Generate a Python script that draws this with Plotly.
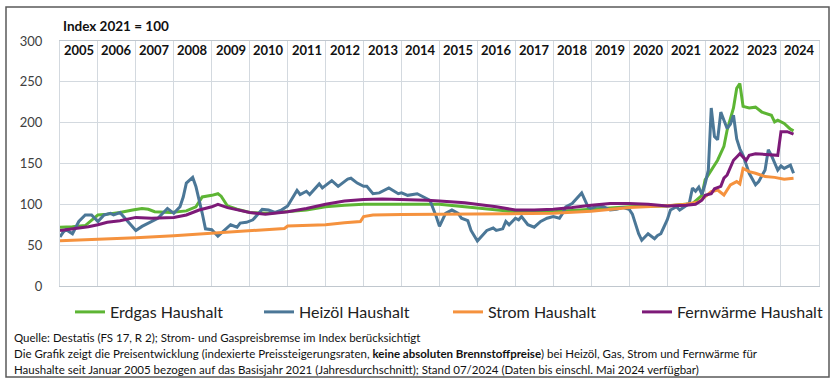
import plotly.graph_objects as go

# ---------------- data ----------------
years = [str(y) for y in range(2005, 2025)]

erdgas_dates = ["2005-01", "2005-05", "2005-09", "2005-11", "2006-01", "2006-04", "2006-08", "2006-12",
                "2007-03", "2007-05", "2007-07", "2007-12", "2008-05", "2008-08", "2008-10", "2009-01",
                "2009-03", "2009-04", "2009-06", "2009-09", "2010-01", "2010-07", "2011-01", "2011-07",
                "2012-01", "2012-07", "2013-01", "2014-01", "2015-01", "2015-09", "2016-07", "2017-01",
                "2018-01", "2019-01", "2019-07", "2020-01", "2020-07", "2021-01", "2021-09", "2021-12",
                "2022-01", "2022-03", "2022-05", "2022-07", "2022-08", "2022-10", "2022-11", "2022-12",
                "2023-01", "2023-03", "2023-05", "2023-07", "2023-10", "2023-11", "2023-12", "2024-02",
                "2024-04", "2024-05"]
erdgas_values = [72, 72.5, 74, 80, 87, 88, 90, 93,
                 95, 94, 91, 90, 92, 97, 109, 111,
                 113, 110, 98, 94, 90, 89, 91, 93,
                 97, 99, 100, 100, 100, 97, 93, 91,
                 91, 94, 96, 97, 98, 98, 101, 111,
                 130, 142, 154, 171, 191, 218, 242, 248,
                 220, 218, 219, 213, 209, 201, 203, 199,
                 192, 190]

heizoel_dates = ["2005-01", "2005-02", "2005-03", "2005-05", "2005-07", "2005-09", "2005-11", "2006-01",
                 "2006-03", "2006-05", "2006-06", "2006-08", "2006-10", "2006-11", "2007-01", "2007-03",
                 "2007-06", "2007-08", "2007-11", "2008-01", "2008-03", "2008-04", "2008-05", "2008-07",
                 "2008-08", "2008-09", "2008-10", "2008-11", "2009-01", "2009-03", "2009-05", "2009-07",
                 "2009-09", "2009-10", "2009-12", "2010-02", "2010-05", "2010-07", "2010-09", "2010-11",
                 "2011-01", "2011-04", "2011-05", "2011-07", "2011-08", "2011-11", "2011-12", "2012-03",
                 "2012-05", "2012-07", "2012-08", "2012-09", "2012-11", "2013-01", "2013-02", "2013-04",
                 "2013-06", "2013-09", "2013-12", "2014-01", "2014-03", "2014-06", "2014-08", "2014-10",
                 "2014-12", "2015-01", "2015-03", "2015-04", "2015-05", "2015-07", "2015-08", "2015-10",
                 "2015-11", "2016-01", "2016-02", "2016-04", "2016-06", "2016-07", "2016-09", "2016-10",
                 "2016-11", "2017-01", "2017-02", "2017-03", "2017-05", "2017-07", "2017-09", "2017-11",
                 "2018-01", "2018-03", "2018-04", "2018-05", "2018-07", "2018-09", "2018-10", "2018-12",
                 "2019-01", "2019-03", "2019-05", "2019-07", "2019-09", "2019-11", "2020-01", "2020-02",
                 "2020-03", "2020-04", "2020-05", "2020-06", "2020-07", "2020-09", "2020-10", "2020-11",
                 "2021-01", "2021-02", "2021-04", "2021-05", "2021-08", "2021-09", "2021-10", "2021-11",
                 "2021-12", "2022-01", "2022-02", "2022-03", "2022-04", "2022-05", "2022-06", "2022-07",
                 "2022-08", "2022-09", "2022-10", "2022-11", "2022-12", "2023-01", "2023-03", "2023-05",
                 "2023-06", "2023-08", "2023-09", "2023-10", "2023-12", "2024-01", "2024-02", "2024-04",
                 "2024-05"]
heizoel_values = [60, 66, 69, 64, 79, 87, 87, 79,
                  87, 89, 87, 90, 81, 77, 68, 73,
                  79, 83, 95, 89, 97, 109, 126, 133,
                  122, 107, 89, 70, 69, 61, 68, 75,
                  72, 77, 78, 81, 94, 93, 90, 93,
                  98, 117, 112, 116, 112, 125, 120, 129,
                  122, 128, 131, 132, 126, 122, 122, 113,
                  114, 120, 113, 114, 111, 113, 109, 105,
                  85, 73, 89, 91, 93, 89, 83, 80,
                  68, 55, 59, 68, 71, 68, 70, 79,
                  75, 83, 81, 85, 75, 72, 79, 83,
                  85, 83, 89, 97, 101, 109, 114, 97,
                  95, 98, 97, 93, 94, 96, 94, 88,
                  75, 64, 56, 60, 64, 58, 62, 64,
                  81, 93, 97, 93, 101, 120, 116, 121,
                  112, 125, 142, 218, 183, 179, 213, 203,
                  193, 198, 209, 180, 168, 160, 138, 124,
                  128, 142, 167, 160, 142, 147, 144, 148,
                  138]

strom_dates = ["2005-01", "2006-01", "2007-01", "2008-01", "2009-01", "2010-01", "2010-12", "2011-01",
               "2012-01", "2012-07", "2012-12", "2013-01", "2013-04", "2014-01", "2015-01", "2016-01",
               "2017-01", "2018-01", "2019-01", "2020-01", "2021-01", "2021-07", "2021-11", "2022-01",
               "2022-03", "2022-05", "2022-07", "2022-09", "2022-11", "2022-12", "2023-01", "2023-03",
               "2023-05", "2023-08", "2023-11", "2024-02", "2024-05"]
strom_values = [55.5, 57, 59, 61.5, 64.5, 68, 70.5, 73.5,
                75, 77.5, 79, 85, 87, 87.5, 88, 88,
                89, 89, 91.5, 96, 98.4, 100, 103, 109,
                115.5, 117.6, 111.4, 123.7, 127.8, 125, 144, 140,
                138, 134, 133, 130.6, 132]

fernwaerme_dates = ["2005-01", "2005-06", "2005-10", "2006-01", "2006-04", "2006-08", "2007-01", "2007-06",
                    "2008-01", "2008-05", "2008-09", "2009-01", "2009-03", "2009-06", "2009-10", "2010-01",
                    "2010-06", "2011-01", "2011-07", "2012-01", "2012-07", "2013-01", "2013-07", "2014-01",
                    "2014-09", "2015-01", "2015-09", "2016-07", "2017-01", "2017-07", "2018-01", "2018-07",
                    "2019-01", "2019-07", "2020-01", "2020-07", "2021-01", "2021-07", "2021-10", "2021-12",
                    "2022-01", "2022-03", "2022-04", "2022-06", "2022-07", "2022-08", "2022-10", "2022-11",
                    "2022-12", "2023-02", "2023-03", "2023-05", "2023-08", "2023-12", "2024-01", "2024-03",
                    "2024-05"]
fernwaerme_values = [68, 70, 72.5, 75, 78, 80, 84, 83,
                     84, 87, 93, 97, 100, 96, 93, 90,
                     88, 91, 95, 100, 104, 106, 106.5, 106,
                     105, 104, 102, 97, 93, 93, 94, 96,
                     99, 101, 101, 100, 98, 99, 100, 105,
                     111, 113, 119, 122, 132, 136, 154, 158,
                     162, 154, 160, 162, 161, 160, 189, 189,
                     186]

series = [
    ("Erdgas Haushalt", erdgas_dates, erdgas_values, "#5db534"),
    ("Heizöl Haushalt", heizoel_dates, heizoel_values, "#4b7797"),
    ("Strom Haushalt", strom_dates, strom_values, "#f5923e"),
    ("Fernwärme Haushalt", fernwaerme_dates, fernwaerme_values, "#7d1a78"),
]

# ---------------- figure ----------------
W, H = 837, 382
L, R, T, B = 60, 18, 41, 96
pw, ph = W - L - R, H - T - B

def px(x):
    return (x - L) / pw

def py(y):
    return (H - B - y) / ph

FONT = "Lato"
GRID = "#d3d9df"

fig = go.Figure()
for name, d, v, c in series:
    fig.add_trace(go.Scatter(x=d, y=v, mode="lines", name=name,
                             line=dict(color=c, width=3), hoverinfo="skip"))

annotations = []
for yr in years:
    annotations.append(dict(x=f"{yr}-07-02", y=py(50), xref="x", yref="paper",
                            xanchor="center", yanchor="middle",
                            text=f"<b>{yr}</b>", showarrow=False,
                            font=dict(family=FONT, size=13, color="#111111")))
annotations.append(dict(x=px(61), y=py(26), xref="paper", yref="paper",
                        xanchor="left", yanchor="middle",
                        text="<b>Index 2021 = 100</b>", showarrow=False,
                        font=dict(family=FONT, size=13.5, color="#111111")))
foot = [
    "Quelle: Destatis (FS 17, R 2); Strom- und Gaspreisbremse im Index berücksichtigt",
    "Die Grafik zeigt die Preisentwicklung (indexierte Preissteigerungsraten, <b>keine absoluten Brennstoffpreise</b>) bei Heizöl, Gas, Strom und Fernwärme für",
    "Haushalte seit Januar 2005 bezogen auf das Basisjahr 2021 (Jahresdurchschnitt); Stand 07/2024 (Daten bis einschl. Mai 2024 verfügbar)",
]
for i, t in enumerate(foot):
    annotations.append(dict(x=px(12), y=py(338 + 15.5 * i), xref="paper", yref="paper",
                            xanchor="left", yanchor="middle", text=t, showarrow=False,
                            font=dict(family=FONT, size=11.5, color="#111111")))

fig.update_layout(
    width=W, height=H,
    margin=dict(l=L, r=R, t=T, b=B, pad=0, autoexpand=False),
    paper_bgcolor="white", plot_bgcolor="white",
    font=dict(family=FONT, color="#333333"),
    showlegend=True,
    legend=dict(orientation="h", x=px(70), y=py(312), xanchor="left", yanchor="middle",
                entrywidth=144, entrywidthmode="pixels", itemwidth=30,
                font=dict(family=FONT, size=16, color="#222222"),
                bgcolor="rgba(0,0,0,0)"),
    xaxis=dict(type="date", range=["2005-01-01", "2025-01-01"], dtick="M12", tick0="2005-01-01",
               showticklabels=False, showgrid=True, gridcolor=GRID, gridwidth=1,
               showline=True, linecolor="#c0c7ce", linewidth=1, mirror=True, zeroline=False),
    yaxis=dict(range=[0, 300], dtick=50, showgrid=True, gridcolor=GRID, gridwidth=1,
               showline=True, linecolor=GRID, linewidth=1, mirror=True, zeroline=False,
               ticklabelstandoff=14,
               tickfont=dict(family=FONT, size=13, color="#404040")),
    annotations=annotations,
    shapes=[dict(type="rect", xref="paper", yref="paper",
                 x0=px(6), x1=px(829), y0=py(377), y1=py(7),
                 line=dict(color="#5a5a5a", width=1.5), fillcolor="rgba(0,0,0,0)", layer="below")],
)

fig.write_html("out.html", config={"displayModeBar": False},
               post_script="document.body.style.margin='0';document.body.style.padding='0';")
